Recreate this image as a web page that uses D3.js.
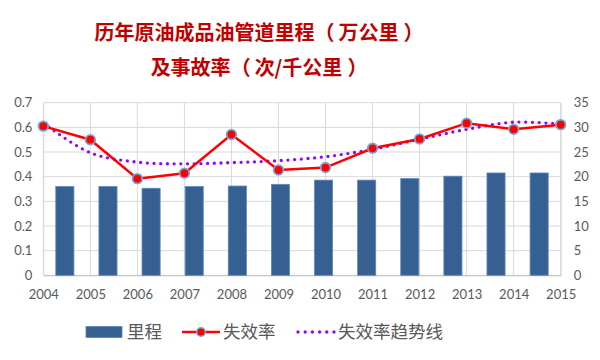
<!DOCTYPE html>
<html><head><meta charset="utf-8">
<script src="https://cdn.jsdelivr.net/npm/d3@7"></script>
<style>
html,body{margin:0;padding:0;background:#fff;}
svg{display:block;}
</style></head>
<body>
<svg id="chart" width="600" height="360"></svg>
<script>
const years = ["2004","2005","2006","2007","2008","2009","2010","2011","2012","2013","2014","2015"];
const mileage = [18.0, 18.0, 17.65, 18.0, 18.1, 18.45, 19.3, 19.3, 19.6, 20.1, 20.75, 20.75];
const failureRate = [0.605, 0.55, 0.392, 0.414, 0.571, 0.427, 0.437, 0.515, 0.553, 0.617, 0.592, 0.611];
const trendRate = [0.618, 0.497, 0.459, 0.452, 0.457, 0.465, 0.481, 0.511, 0.552, 0.592, 0.621, 0.613];
const leftTicks = [0, 0.1, 0.2, 0.3, 0.4, 0.5, 0.6, 0.7];
const rightTicks = [0, 5, 10, 15, 20, 25, 30, 35];
const titleLines = ["历年原油成品油管道里程（万公里）", "及事故率（次/千公里）"];
const legendNames = ["里程", "失效率", "失效率趋势线"];

const svg = d3.select("#chart");
const L = 43.3, R = 560.7, T = 102.7, B = 275.3;
const gray = "#d9d9d9", textCol = "#595959";
const tickFont = "Lato, 'Liberation Sans', sans-serif";
const cjkFont = "'Noto Sans CJK SC', 'Noto Sans', sans-serif";

const xPt = d3.scalePoint().domain(years).range([L, R]).padding(0);
const xBand = d3.scaleBand().domain(years).range([L, R]).paddingInner(0.58).paddingOuter(0.29);
const yL = d3.scaleLinear().domain([0, 0.7]).range([B, T]);
const yR = d3.scaleLinear().domain([0, 35]).range([B, T]);

// Title (a little extra spacing around the full-width parentheses, as in the original)
const tg = svg.append("g");
titleLines.forEach((line, i) => {
  const t = tg.append("text")
    .attr("x", 259).attr("y", 40 + i*35)
    .attr("text-anchor", "middle")
    .attr("font-family", cjkFont).attr("font-weight", "bold")
    .attr("font-size", 20).attr("fill", "#c00000");
  let prev = null;
  line.split(/([（）])/).filter(s => s.length).forEach(s => {
    const sp = t.append("tspan").text(s);
    if (s === "）") sp.attr("dx", 5);
    else if (prev === "（") sp.attr("dx", 4);
    prev = s;
  });
});

// Horizontal gridlines
svg.append("g").selectAll("line").data(leftTicks).join("line")
  .attr("x1", L).attr("x2", R)
  .attr("y1", d => yL(d)).attr("y2", d => yL(d))
  .attr("stroke", gray).attr("stroke-width", 1);
// Vertical gridlines
svg.append("g").selectAll("line").data(years).join("line")
  .attr("x1", d => xPt(d)).attr("x2", d => xPt(d))
  .attr("y1", T).attr("y2", B)
  .attr("stroke", gray).attr("stroke-width", 1);

// Axes
const axL = d3.axisLeft(yL).tickValues(leftTicks).tickSize(0).tickPadding(11)
  .tickFormat(d => d === 0 ? "0" : d3.format(".1f")(d));
const gL = svg.append("g").attr("transform", `translate(${L},0)`).call(axL);
const axR = d3.axisRight(yR).tickValues(rightTicks).tickSize(0).tickPadding(13);
const gR = svg.append("g").attr("transform", `translate(${R},0)`).call(axR);
const axB = d3.axisBottom(xPt).tickSize(0).tickPadding(14);
const gB = svg.append("g").attr("transform", `translate(0,${B})`).call(axB);
[gL, gR, gB].forEach(g => {
  g.select(".domain").attr("stroke", gray);
  g.selectAll("text").attr("font-family", tickFont).attr("font-size", 13).attr("fill", textCol);
});
gB.select(".domain").attr("stroke", "#bfbfbf");

// Bars
svg.append("g").selectAll("rect").data(years).join("rect")
  .attr("x", d => xBand(d)).attr("width", xBand.bandwidth())
  .attr("y", (d,i) => yR(mileage[i]))
  .attr("height", (d,i) => B - yR(mileage[i]))
  .attr("fill", "#376092").attr("stroke", "#5c88bd").attr("stroke-width", 0.8);

// Trendline
const trendLine = d3.line().x((d,i) => xPt(years[i])).y(d => yL(d)).curve(d3.curveCatmullRom.alpha(0.5));
svg.append("path").datum(trendRate).attr("d", trendLine)
  .attr("fill", "none").attr("stroke", "#9900ff").attr("stroke-width", 3.3)
  .attr("stroke-linecap", "round").attr("stroke-dasharray", "0 6.7");

// Failure rate line
const rateLine = d3.line().x((d,i) => xPt(years[i])).y(d => yL(d));
svg.append("path").datum(failureRate).attr("d", rateLine)
  .attr("fill", "none").attr("stroke", "#ff0000").attr("stroke-width", 2.5);
svg.append("g").selectAll("circle").data(failureRate).join("circle")
  .attr("cx", (d,i) => xPt(years[i])).attr("cy", d => yL(d))
  .attr("r", 4.8).attr("fill", "#ff0000")
  .attr("stroke", "#6fa8dc").attr("stroke-width", 1.8);

// Legend
const lg = svg.append("g");
const ly = 332;
lg.append("rect").attr("x", 86).attr("y", ly - 5.5).attr("width", 36).attr("height", 11)
  .attr("fill", "#376092").attr("stroke", "#5c88bd").attr("stroke-width", 0.8);
lg.append("line").attr("x1", 182).attr("x2", 220).attr("y1", ly).attr("y2", ly)
  .attr("stroke", "#ff0000").attr("stroke-width", 2.5);
lg.append("circle").attr("cx", 201).attr("cy", ly).attr("r", 4.3)
  .attr("fill", "#ff0000").attr("stroke", "#6fa8dc").attr("stroke-width", 1.6);
lg.append("line").attr("x1", 298).attr("x2", 334).attr("y1", ly).attr("y2", ly)
  .attr("stroke", "#9900ff").attr("stroke-width", 3.3)
  .attr("stroke-linecap", "round").attr("stroke-dasharray", "0 7.2");
const lx = [127, 223, 338];
lg.selectAll("text").data(legendNames).join("text")
  .attr("x", (d,i) => lx[i]).attr("y", ly + 6)
  .attr("font-family", cjkFont).attr("font-size", 17.5).attr("fill", textCol)
  .text(d => d);
</script>
</body></html>
